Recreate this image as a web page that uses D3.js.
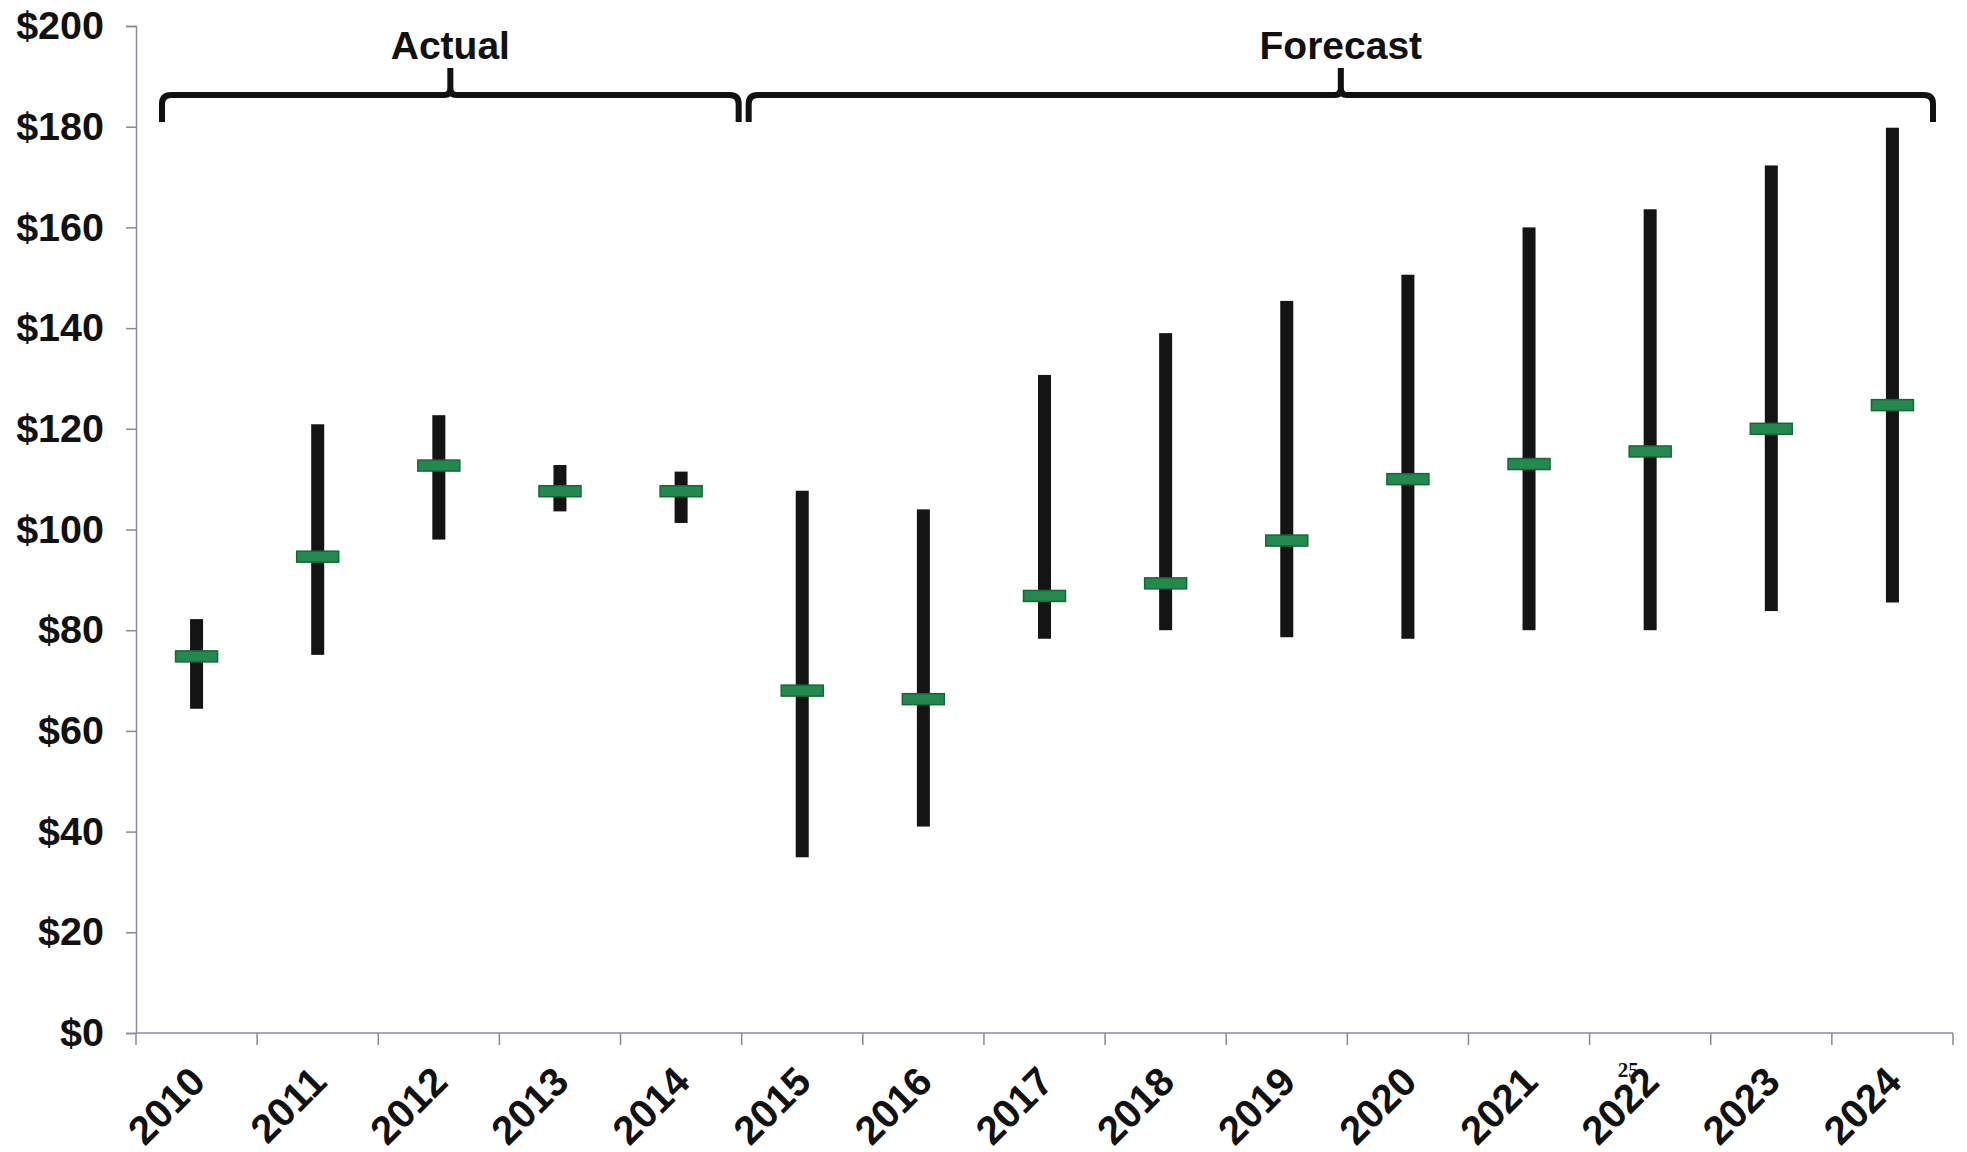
<!DOCTYPE html>
<html><head><meta charset="utf-8">
<script src="https://cdn.jsdelivr.net/npm/d3@7"></script>
<style>body{margin:0;background:#fff}svg{display:block}text{font-family:"Liberation Sans",Arial,sans-serif;font-weight:bold;fill:#111}</style>
</head><body><svg id="c" width="1967" height="1152"></svg>
<script>
const years = ["2010","2011","2012","2013","2014","2015","2016","2017","2018","2019","2020","2021","2022","2023","2024"];
const highs = [82.2,120.9,122.7,112.8,111.5,107.7,104,130.7,139,145.4,150.6,160,163.6,172.3,179.8];
const lows  = [64.4,75.1,98,103.6,101.3,34.9,41,78.3,80,78.6,78.3,80,80,83.8,85.5];
const mids  = [74.8,94.6,112.7,107.6,107.6,68,66.3,86.8,89.3,97.8,110,113,115.5,120,124.7];
const yTicks = [0,20,40,60,80,100,120,140,160,180,200];
const groups = [{label:"Actual", from:"2010", to:"2014"},{label:"Forecast", from:"2015", to:"2024"}];
const pageNumber = "25";

const svg = d3.select("#c");
const x = d3.scaleBand().domain(years).range([136,1953]);
const y = d3.scaleLinear().domain([0,200]).range([1033,26]);

// axes
const yAxis = svg.append("g").attr("transform","translate(136,0)")
  .call(d3.axisLeft(y).tickValues(yTicks).tickSize(10).tickFormat(d=>"$"+d));
yAxis.select(".domain").attr("stroke","#8a8aa8").attr("stroke-width",1.5);
yAxis.selectAll(".tick line").attr("stroke","#8a8a8a").attr("stroke-width",1.5);
yAxis.selectAll(".tick text").attr("font-size",39.5).attr("x",-32).attr("fill","#111")
  .style("font-family","'Liberation Sans',Arial,sans-serif").style("font-weight","bold");

const xAxisG = svg.append("g").attr("transform","translate(0,1033)");
xAxisG.append("line").attr("x1",136).attr("x2",1953).attr("stroke","#8a8aa8").attr("stroke-width",1.5);
const bounds = years.map(d=>x(d)).concat([x(years[years.length-1])+x.bandwidth()]);
xAxisG.selectAll("line.tk").data(bounds).join("line").attr("class","tk")
  .attr("x1",d=>d).attr("x2",d=>d).attr("y1",0).attr("y2",12).attr("stroke","#8a8a8a").attr("stroke-width",1.5);
xAxisG.selectAll("text.yl").data(years).join("text").attr("class","yl")
  .attr("text-anchor","end").attr("font-size",40)
  .attr("transform",d=>`translate(${x(d)+x.bandwidth()/2+11},${51}) rotate(-45)`)
  .text(d=>d);

// range bars
const bw = 13;
svg.selectAll("rect.rng").data(years).join("rect").attr("class","rng")
  .attr("x",(d,i)=>x(d)+x.bandwidth()/2-bw/2).attr("width",bw)
  .attr("y",(d,i)=>y(highs[i])).attr("height",(d,i)=>y(lows[i])-y(highs[i]))
  .attr("fill","#141414");
// mid markers
const mw = 42, mh = 11;
svg.selectAll("rect.mid").data(years).join("rect").attr("class","mid")
  .attr("x",d=>x(d)+x.bandwidth()/2-mw/2).attr("width",mw)
  .attr("y",(d,i)=>y(mids[i])-mh/2).attr("height",mh)
  .attr("fill","#24894e").attr("stroke","#18653a").attr("stroke-width",1.5);

// brackets
const by = 95, hook = 27, tip = 27, r = 9;
function bracket(x0,x1){
  const xm=(x0+x1)/2;
  return `M${x0},${by+hook} L${x0},${by+r} Q${x0},${by} ${x0+r},${by} L${xm-6},${by} Q${xm},${by} ${xm},${by-7} L${xm},${by-tip}`+
         ` M${xm},${by-7} Q${xm},${by} ${xm+6},${by} L${x1-r},${by} Q${x1},${by} ${x1},${by+r} L${x1},${by+hook}`;
}
groups.forEach((g,i)=>{
  const x0 = i===0 ? x(g.from)+26 : x(g.from)+7;
  const x1 = i===0 ? x(g.to)+x.bandwidth()-3 : x(g.to)+x.bandwidth()-20;
  svg.append("path").attr("d",bracket(x0,x1)).attr("fill","none").attr("stroke","#111").attr("stroke-width",6);
  svg.append("text").attr("x",(x0+x1)/2).attr("y",59).attr("text-anchor","middle").attr("font-size",39).text(g.label);
});

// stray page number printed over the axis labels
svg.append("text").attr("x",x("2022")+x.bandwidth()/2-22).attr("y",1077).attr("text-anchor","middle")
  .style("font-family","'Liberation Serif','DejaVu Serif',serif").style("font-weight","bold")
  .attr("font-size",21).text(pageNumber);
</script></body></html>
